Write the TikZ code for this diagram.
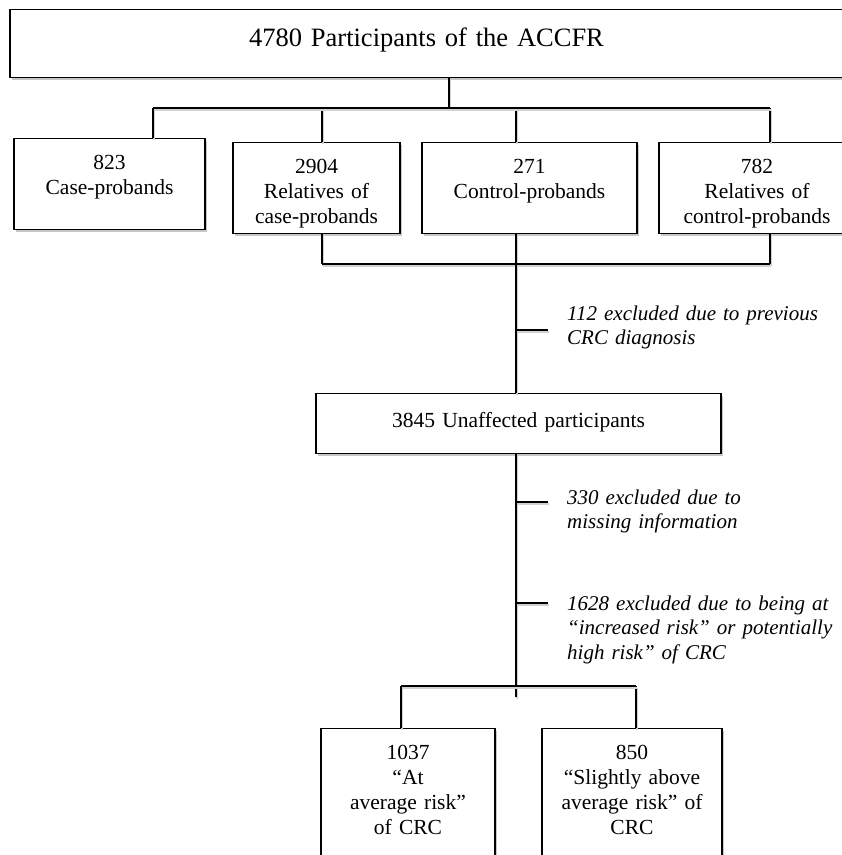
\documentclass[tikz,border=0pt]{standalone}
\usepackage{fontspec}
\setmainfont{Liberation Serif}
\usetikzlibrary{shadows}

\tikzset{
  box/.style={draw, fill=white, line width=1.2pt, inner sep=0pt, align=center,
    font=\fontsize{21.5}{25}\selectfont, text height=31pt, text depth=60pt,
    drop shadow={shadow xshift=1.5pt, shadow yshift=-2pt, fill=black!22, opacity=1}},
  link/.style={line width=1.2pt,
    preaction={draw=black!18, line width=1.2pt, transform canvas={shift={(1pt,-2pt)}}}},
  note/.style={anchor=base west, inner sep=0pt, align=left, text width=280pt,
    font=\fontsize{21}{24.5}\selectfont\itshape}
}

\begin{document}
\begin{tikzpicture}[x=1pt,y=-1pt]
\useasboundingbox (0,0) rectangle (842,855);

\node[box, anchor=north, text width=833pt, text height=37pt, text depth=31pt,
  font=\fontsize{26.5}{30}\selectfont] (top) at (426.5,9) {4780 Participants of the ACCFR};
\node[box, anchor=north, text width=191pt] (case) at (109.5,138) {823\\Case-probands};
\node[box, anchor=north, text width=167pt] (rcase) at (316.5,142) {2904\\Relatives of\\case-probands};
\node[box, anchor=north, text width=215pt] (ctrl) at (529.5,142) {271\\Control-probands};
\node[box, anchor=north, text width=196pt] (rctrl) at (757,142) {782\\Relatives of\\control-probands};
\node[box, anchor=north, text width=405pt, text height=34pt, text depth=26pt] (unaff) at (518.5,393) {3845 Unaffected participants};
\node[box, anchor=north, text width=174pt, text depth=150pt] (avg) at (408,728) {1037\\“At\\average risk”\\of CRC};
\node[box, anchor=north, text width=180pt, text depth=150pt] (above) at (632,728) {850\\“Slightly above\\average risk” of\\CRC};

\node[note] (ex1) at (567,320) {112 excluded due to previous\\CRC diagnosis};
\node[note] (ex2) at (567,504) {330 excluded due to\\missing information};
\node[note] (ex3) at (567,610) {1628 excluded due to being at\\“increased risk” or potentially\\high risk” of CRC};

\coordinate (split) at (449,108);
\draw[link] (top.south -| split) -- (split);
\foreach \n/\x in {case/153,rcase/322,ctrl/516,rctrl/770}{
  \coordinate (\n-in) at (\x,108);
  \draw[link] (\n-in) -- (\n-in |- \n.north);
}
\draw[link] (case-in) -- (rctrl-in);

\foreach \n/\x in {rcase/322,ctrl/516,rctrl/770}{
  \coordinate (\n-out) at (\x,264);
  \draw[link] (\n-out |- \n.south) -- (\n-out);
}
\draw[link] (rcase-out) -- (rctrl-out);
\draw[link] (ctrl-out) -- (ctrl-out |- unaff.north);

\coordinate (fork) at (516,686);
\coordinate (stem) at (516,697);
\draw[link] (fork |- unaff.south) -- (stem);
\foreach \n/\y in {ex1/330,ex2/502,ex3/603}{
  \coordinate (\n-tick) at (548,\y);
  \draw[link] (\n-tick -| fork) -- (\n-tick);
}
\foreach \n/\x in {avg/401,above/636}{
  \coordinate (\n-in) at (\x,686);
  \draw[link] (\n-in) -- (\n-in |- \n.north);
}
\draw[link] (avg-in) -- (above-in);
\end{tikzpicture}
\end{document}
